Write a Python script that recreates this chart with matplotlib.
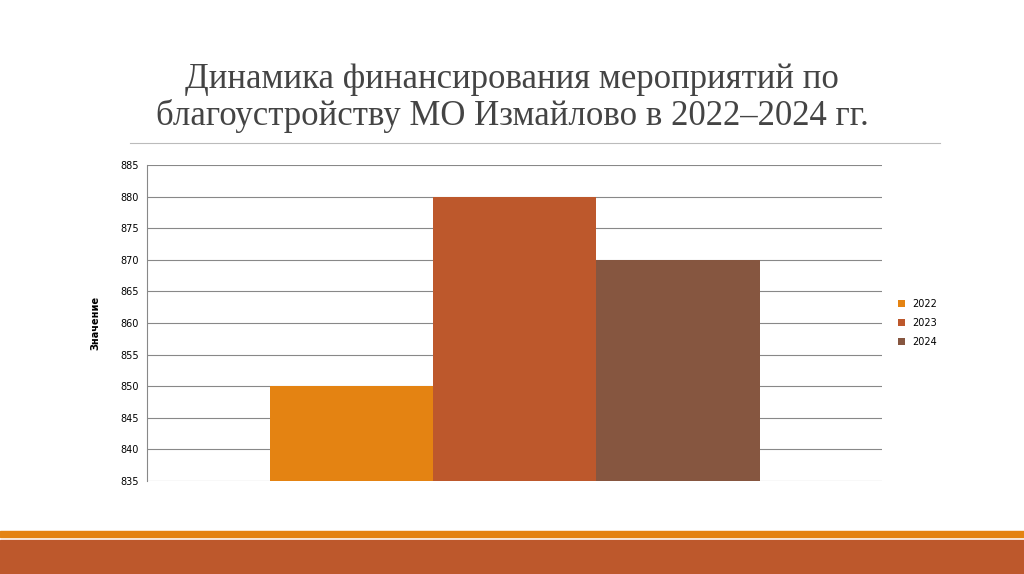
import matplotlib
matplotlib.use("Agg")
import matplotlib.pyplot as plt
from matplotlib.patches import Rectangle

years = ["2022", "2023", "2024"]
values = [850, 880, 870]
colors = ["#E48312", "#BD582C", "#865640"]
yticks = list(range(835, 886, 5))

fig = plt.figure(figsize=(10.24, 5.74), dpi=100)
W, H = 1024, 574
ax = fig.add_axes([147/W, 1-481/H, (882-147)/W, (481-165)/H])
for i, (y, v, c) in enumerate(zip(years, values, colors)):
    ax.bar(i-1, v-835, bottom=835, width=1, color=c, label=y, zorder=3)
ax.set_xlim(-2.25, 2.25)
ax.set_ylim(835, 885)
ax.set_yticks(yticks)
ax.tick_params(axis='y', labelsize=7, length=0, pad=6)
ax.set_xticks([])
ax.grid(axis='y', color='#888888', linewidth=0.8, zorder=0)
for s in ['top', 'right', 'bottom']:
    ax.spines[s].set_visible(False)
ax.spines['left'].set_color('#888888')
ax.set_ylabel("Значение", fontsize=7, fontweight='bold', labelpad=14)
ax.legend(loc='center left', bbox_to_anchor=(1.01, 0.5), frameon=False, fontsize=7,
          handlelength=0.7, handleheight=0.7, labelspacing=0.9)

fig.text(512/W, 1-98/H, "Динамика финансирования мероприятий по\nблагоустройству МО Измайлово в 2022–2024 гг.",
         ha='center', va='center', fontsize=25, family='Liberation Serif', color='#444444', linespacing=1.15)
fig.add_artist(plt.Line2D([130/W, 940/W], [1-143/H, 1-143/H], color='#bbbbbb', linewidth=0.8))
fig.add_artist(Rectangle((0, 1-537/H), 1, 6/H, transform=fig.transFigure, color='#E48312'))
fig.add_artist(Rectangle((0, 0), 1, 1-540/H, transform=fig.transFigure, color='#BD582C'))
fig.savefig("out.png", dpi=100)
